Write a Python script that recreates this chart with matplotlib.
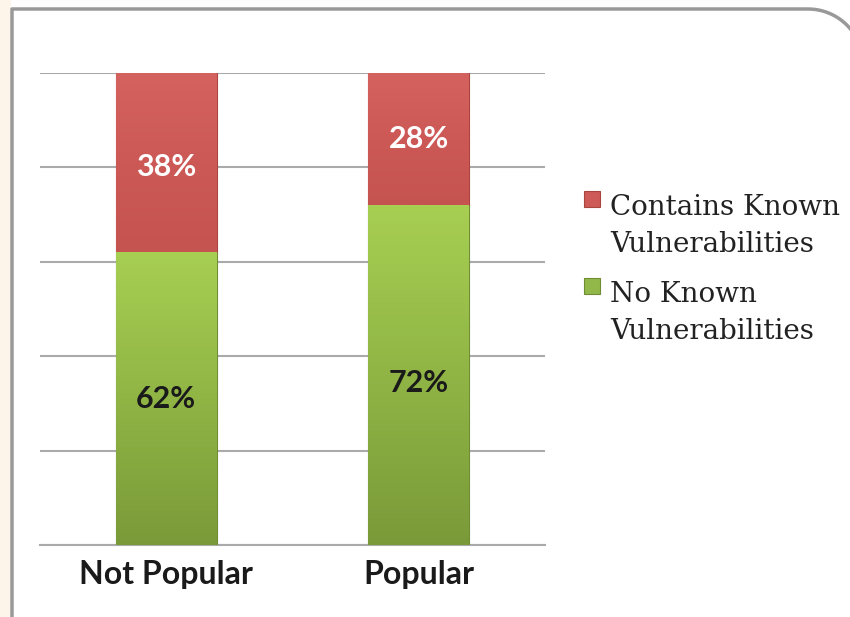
import matplotlib.pyplot as plt
import numpy as np
from matplotlib.colors import LinearSegmentedColormap

# 데이터
categories = ['Not Popular', 'Popular']
no_known = [62, 72]
contains_known = [38, 28]
series_names = ['Contains Known\nVulnerabilities', 'No Known\nVulnerabilities']

W, H = 850, 617
fig = plt.figure(figsize=(8.5, 6.17), dpi=100)
fig.patch.set_facecolor('white')

# 왼쪽 배경 장식 (연한 주황)
fig.patches.append(plt.Rectangle((0, 0), 11 / W, 1, transform=fig.transFigure,
                                 facecolor='#fdf4ea', edgecolor='none', zorder=0))

# 둥근 테두리
t = np.linspace(np.pi / 2, 0, 40)
r = 55
cx = 808
px = [12, 12, cx] + list(cx + r * np.cos(t)) + [cx + r]
py = [650, 9, 9] + list(9 + r - r * np.sin(t)) + [650]
px = np.array(px) / W
py = 1 - np.array(py) / H
fig.add_artist(plt.Line2D(px, py, transform=fig.transFigure, color='#999999', lw=2.5))

ax = fig.add_axes([40 / W, 1 - 545 / H, 505 / W, 472 / H])
x = np.arange(len(categories))
width = 0.4

green_bars = ax.bar(x, no_known, width, color='#93b84a', edgecolor='#6f8d33', linewidth=0.8, zorder=3)
red_bars = ax.bar(x, contains_known, width, bottom=no_known, color='#cd5a57', edgecolor='#a94441',
                  linewidth=0.8, zorder=3)

# 그라데이션
green_cmap = LinearSegmentedColormap.from_list('g', ['#7a9a39', '#90b545', '#a7cf52'])
red_cmap = LinearSegmentedColormap.from_list('r', ['#c55350', '#cc5956', '#d4625e'])
grad = np.linspace(0, 1, 256).reshape(-1, 1)
for bars, cmap in [(green_bars, green_cmap), (red_bars, red_cmap)]:
    for b in bars:
        bx, by = b.get_x(), b.get_y()
        im = ax.imshow(grad, cmap=cmap, origin='lower', aspect='auto', zorder=3.5,
                       extent=[bx, bx + b.get_width(), by, by + b.get_height()])
        im.set_clip_path(b)

ax.set_xlim(-0.5, 1.5)
ax.set_ylim(0, 100)
ax.set_yticks([0, 20, 40, 60, 80, 100])
ax.yaxis.grid(True, color='#aaaaaa', linewidth=1.5, zorder=0)
ax.set_axisbelow(True)
ax.tick_params(axis='y', left=False, labelleft=False)
ax.tick_params(axis='x', bottom=False, pad=7)
ax.set_xticks(x)
ax.set_xticklabels(categories, fontfamily='Lato', fontweight='bold', fontsize=23, color='#1a1a1a')
for s in ax.spines.values():
    s.set_visible(False)
ax.spines['bottom'].set_visible(True)
ax.spines['bottom'].set_color('#aaaaaa')
ax.spines['bottom'].set_linewidth(1.5)
ax.set_facecolor('none')

# 값 라벨
for i in range(len(categories)):
    ax.text(x[i], no_known[i] / 2 - 1.7 * i, f'{no_known[i]}%', ha='center', va='center',
            fontfamily='Lato', fontweight='bold', fontsize=22, color='#1a1a1a', zorder=5)
    ax.text(x[i], no_known[i] + contains_known[i] / 2 - 1 + i, f'{contains_known[i]}%', ha='center',
            va='center', fontfamily='Lato', fontweight='bold', fontsize=22, color='white', zorder=5)

# 범례
leg_colors = ['#cd5a57', '#93b84a']
leg_edges = ['#a94441', '#6f8d33']
leg_base = [215, 302]
for name, c, ec, yb in zip(series_names, leg_colors, leg_edges, leg_base):
    fig.patches.append(plt.Rectangle((584 / W, 1 - (yb - 8) / H), 16 / W, 16 / H,
                                     transform=fig.transFigure, facecolor=c, edgecolor=ec, lw=0.8))
    for k, line in enumerate(name.split('\n')):
        fig.text(610 / W, 1 - (yb + 37 * k) / H, line, ha='left', va='baseline',
                 fontfamily='DejaVu Serif', fontsize=20, color='#222222')

fig.savefig('out.png', dpi=100)
